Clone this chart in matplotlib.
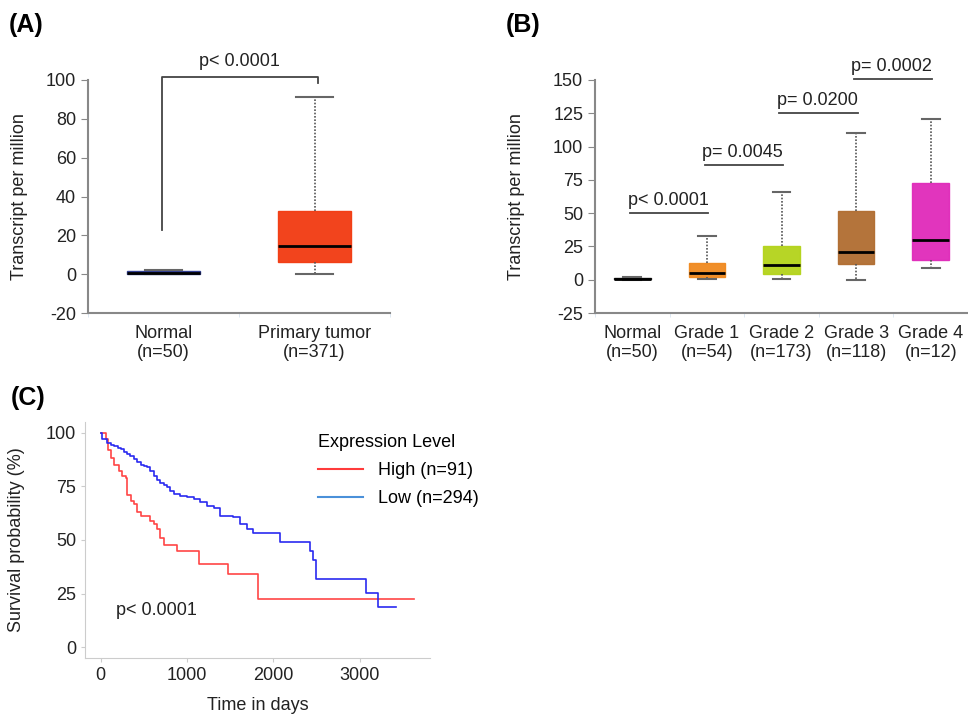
import matplotlib
matplotlib.use("Agg")
import matplotlib.pyplot as plt
from matplotlib.lines import Line2D

plt.rcParams["font.family"] = ["Liberation Sans", "DejaVu Sans"]
plt.rcParams["font.size"] = 13
plt.rcParams["axes.unicode_minus"] = False

# ---- data: panel A ----
a_labels = ["Normal\n(n=50)", "Primary tumor\n(n=371)"]
a_whislo = [0.0, 0.3]
a_q1 = [0.3, 6.3]
a_med = [0.8, 14.5]
a_q3 = [1.5, 32.3]
a_whishi = [2.0, 91.0]
a_colors = ["#2B3990", "#F23A10"]
a_pval = "p< 0.0001"

# ---- data: panel B ----
b_labels = ["Normal\n(n=50)", "Grade 1\n(n=54)", "Grade 2\n(n=173)",
            "Grade 3\n(n=118)", "Grade 4\n(n=12)"]
b_whislo = [0.0, 0.5, 0.5, 0.0, 9.0]
b_q1 = [0.3, 2.0, 4.5, 11.8, 14.5]
b_med = [0.8, 5.0, 11.3, 20.8, 29.8]
b_q3 = [1.5, 12.5, 25.5, 51.5, 73.0]
b_whishi = [2.0, 32.5, 66.0, 110.0, 121.0]
b_colors = ["#111111", "#F0891E", "#B3D31A", "#B06C30", "#E02ABA"]
b_pvals = ["p< 0.0001", "p= 0.0045", "p= 0.0200", "p= 0.0002"]
b_pline_y = [50.0, 86.5, 125.0, 150.75]

# ---- data: panel C (Kaplan-Meier) ----
high_t = [0, 30, 60, 90, 115, 154, 212, 250, 290, 308, 346, 385, 423, 462,
          577, 615, 654, 692, 731, 769, 885, 1135, 1481, 1827, 3635]
high_s = [100, 100, 97, 92, 88, 85, 82, 80, 79, 71, 68, 67, 63, 61,
          59, 57.5, 55, 51, 47.5, 47.5, 45, 39, 34, 22.5, 22.5]
low_t = [0, 20, 77, 120, 154, 200, 231, 270, 308, 345, 385, 420, 462, 500,
         538, 575, 615, 650, 692, 730, 769, 800, 846, 923, 1000, 1077, 1154,
         1231, 1308, 1385, 1538, 1615, 1692, 1769, 2077, 2423, 2462, 2500,
         3077, 3212, 3423]
low_s = [100, 97, 95, 94.5, 93.8, 93, 92.3, 91, 90, 89, 87.6, 86.5, 85, 84.5,
         83.8, 82, 79.9, 78, 76.8, 75.5, 74.5, 73, 71.4, 70.6, 69.9, 69.1,
         67.5, 66, 64.8, 61.4, 60.6, 57.5, 55.2, 53.3, 49.3, 45.1, 40.5, 32,
         25.5, 18.9, 18.9]
km_labels = ["High (n=91)", "Low (n=294)"]
km_pval = "p< 0.0001"


def box_stats(whislo, q1, med, q3, whishi):
    return [dict(whislo=w0, q1=a, med=m, q3=b, whishi=w1, fliers=[])
            for w0, a, m, b, w1 in zip(whislo, q1, med, q3, whishi)]


def draw_boxes(ax, stats, colors):
    pos = [i + 0.5 for i in range(len(stats))]
    bp = ax.bxp(stats, positions=pos, widths=0.49, capwidths=0.24,
                patch_artist=True, showfliers=False,
                medianprops=dict(color="black", lw=2),
                whiskerprops=dict(color="#555555", lw=1.2, ls=(0, (1, 1))),
                capprops=dict(color="#666666", lw=1.5))
    for patch, c in zip(bp["boxes"], colors):
        patch.set_facecolor(c)
        patch.set_edgecolor(c)
        patch.set_alpha(0.95)
    return pos


def style_box_axis(ax, n, labels):
    ax.set_xlim(0, n)
    for s in ["top", "right"]:
        ax.spines[s].set_visible(False)
    for s in ["left", "bottom"]:
        ax.spines[s].set_color("#888888")
        ax.spines[s].set_linewidth(1.5)
    ax.set_xticks([i + 0.5 for i in range(n)])
    ax.set_xticklabels(labels, color="#222222", linespacing=1.15)
    ax.set_xticks(list(range(n + 1)), minor=True)
    ax.tick_params(axis="x", which="major", length=0, pad=9)
    ax.tick_params(axis="x", which="minor", length=3, color="#D8E4F0")
    ax.tick_params(axis="y", length=5, color="#888888", labelcolor="#222222")
    ax.set_ylabel("Transcript per million", color="#222222")


fig = plt.figure(figsize=(9.68, 7.15), dpi=100)

# ---- panel A ----
axA = fig.add_axes([88 / 968, 1 - 313 / 715, 302 / 968, 233 / 715])
draw_boxes(axA, box_stats(a_whislo, a_q1, a_med, a_q3, a_whishi), a_colors)
style_box_axis(axA, 2, a_labels)
axA.set_ylim(-20, 100)
axA.set_yticks(range(-20, 101, 20))
axA.yaxis.set_label_coords(-0.2, 0.5)
axA.plot([0.49, 0.49, 1.52, 1.52], [23, 101.7, 101.7, 98.3], color="#444444",
         lw=1.3, clip_on=False)
axA.text(1.0, 105, a_pval, ha="center", va="bottom", color="#222222")

# ---- panel B ----
axB = fig.add_axes([595 / 968, 1 - 313 / 715, 373 / 968, 233 / 715])
draw_boxes(axB, box_stats(b_whislo, b_q1, b_med, b_q3, b_whishi), b_colors)
style_box_axis(axB, 5, b_labels)
axB.set_ylim(-25, 150)
axB.set_yticks(range(-25, 151, 25))
axB.yaxis.set_label_coords(-0.188, 0.5)
for i, (txt, yv) in enumerate(zip(b_pvals, b_pline_y)):
    axB.plot([i + 0.47, i + 1.52], [yv, yv], color="#444444", lw=1.3, clip_on=False)
    axB.text(i + 0.98, yv + 3.0, txt, ha="center", va="bottom", color="#222222")

# ---- panel C ----
axC = fig.add_axes([85 / 968, 1 - 658 / 715, 345 / 968, 236 / 715])
axC.step(high_t, high_s, where="post", color="#FF4545", lw=1.2)
axC.step(low_t, low_s, where="post", color="#2A2AF0", lw=1.2)
axC.set_xlim(-182, 3817)
axC.set_ylim(-5, 105)
axC.set_xticks([0, 1000, 2000, 3000])
axC.set_yticks([0, 25, 50, 75, 100])
for s in ["top", "right"]:
    axC.spines[s].set_visible(False)
for s in ["left", "bottom"]:
    axC.spines[s].set_color("#CCCCCC")
axC.tick_params(length=3, color="#CCCCCC", labelcolor="#222222")
axC.set_xlabel("Time in days", color="#222222")
axC.xaxis.set_label_coords(0.5, -0.165)
axC.set_ylabel("Survival probability (%)", color="#222222")
axC.yaxis.set_label_coords(-0.174, 0.5)
axC.text(175, 17, km_pval, ha="left", va="center", color="#222222")

handles = [Line2D([], [], color="#FF3B3B", lw=1.5),
           Line2D([], [], color="#4A90D9", lw=1.5)]
fig.legend(handles, km_labels, title="Expression Level", loc="upper left",
           bbox_to_anchor=(302 / 968, 1 - 418 / 715), frameon=False,
           handlelength=2.5, handletextpad=0.8, labelspacing=0.6,
           alignment="left", title_fontsize=13, fontsize=13)

# panel tags
fig.text(9 / 968, 1 - 25 / 715, "(A)", fontsize=18, fontweight="bold", va="center")
fig.text(506 / 968, 1 - 25 / 715, "(B)", fontsize=18, fontweight="bold", va="center")
fig.text(11 / 968, 1 - 398 / 715, "(C)", fontsize=18, fontweight="bold", va="center")

fig.savefig("out.png", dpi=100)
